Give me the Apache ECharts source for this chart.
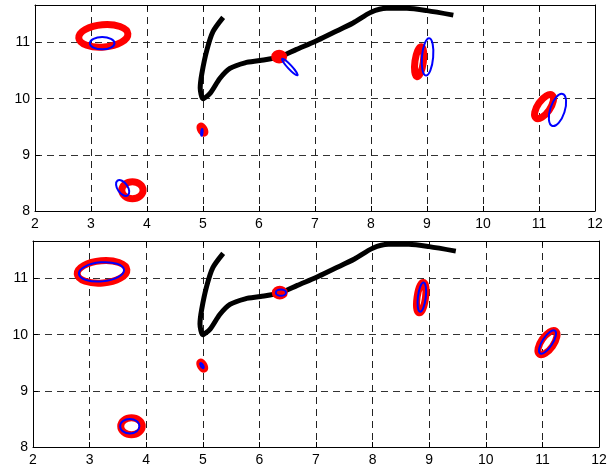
<!DOCTYPE html>
<html>
<head>
<meta charset="utf-8">
<script src="https://cdn.jsdelivr.net/npm/echarts@6/dist/echarts.min.js"></script>
<style>
html,body{margin:0;padding:0;background:#fff;}
#chart{width:614px;height:470px;}
</style>
</head>
<body>
<div id="chart"></div>
<script>
// ---- data ----
var xTicks = [2, 3, 4, 5, 6, 7, 8, 9, 10, 11, 12];
var yTicks = [8, 9, 10, 11];
var xMin = 2, xMax = 12, yMin = 8, yMax = 11.67;

// black trajectory (same in both panels)
var blackX = [5.36, 5.18, 5.07, 4.98, 4.95, 5.00, 5.13, 5.30, 5.48, 5.75, 6.02, 6.38, 6.67, 7.00, 7.33, 7.68, 8.00, 8.28, 8.64, 9.00, 9.47];
var blackY = [11.45, 11.20, 10.87, 10.45, 10.19, 10.00, 10.10, 10.36, 10.54, 10.64, 10.68, 10.75, 10.88, 11.02, 11.18, 11.35, 11.54, 11.61, 11.61, 11.57, 11.49];

// ellipses: [centre x, centre y, semi-axis a, semi-axis b, tilt (deg)]
var redEllipses = [
  [3.22, 11.12, 0.44, 0.20, 5],
  [4.99, 9.45, 0.07, 0.03, -60],
  [3.74, 8.37, 0.19, 0.15, 0],
  [6.36, 10.75, 0.08, 0.06, 0],
  [8.86, 10.66, 0.27, 0.075, 82],
  [11.09, 9.86, 0.25, 0.11, 55]
];
var blueEllipsesTop = [
  [3.20, 10.99, 0.22, 0.11, 0],
  [4.98, 9.40, 0.06, 0.012, 85],
  [3.565, 8.41, 0.16, 0.09, -55],
  [6.55, 10.565, 0.20, 0.035, -47],
  [9.01, 10.745, 0.335, 0.10, 85],
  [11.33, 9.80, 0.30, 0.13, 72]
];
var blueEllipsesBottom = [
  [3.21, 11.12, 0.40, 0.17, 5],
  [4.985, 9.45, 0.05, 0.02, -60],
  [3.71, 8.37, 0.17, 0.13, 0],
  [6.38, 10.75, 0.09, 0.055, 0],
  [8.87, 10.67, 0.26, 0.07, 83],
  [11.09, 9.87, 0.24, 0.09, 57]
];

// ---- chart ----
var chart = echarts.init(document.getElementById('chart'), null, {renderer: 'canvas'});
var FONT = 'Liberation Sans, Arial, sans-serif';

function pairs(xs, ys) { return xs.map(function (x, i) { return [x, ys[i]]; }); }

function ellipseRenderer(color, width) {
  return function (params, api) {
    var c = api.coord([api.value(0), api.value(1)]);
    var s = api.size([api.value(2), api.value(3)]);
    return {
      type: 'ellipse',
      x: c[0], y: c[1],
      rotation: api.value(4) * Math.PI / 180,
      shape: {cx: 0, cy: 0, rx: s[0], ry: s[1]},
      style: {fill: null, stroke: color, lineWidth: width}
    };
  };
}

function mainX(gi) {
  return {
    gridIndex: gi, type: 'value', min: xMin, max: xMax, interval: 1, position: 'bottom',
    axisLine: {show: true, onZero: false, lineStyle: {color: '#000', width: 1}},
    axisTick: {show: true, inside: true, length: 5, lineStyle: {color: '#000'}},
    axisLabel: {color: '#000', fontFamily: FONT, fontSize: 14, margin: 6,
      formatter: function (v) { return xTicks.indexOf(v) >= 0 ? String(v) : ''; }},
    splitLine: {show: true, lineStyle: {color: '#222', type: [7, 5], width: 1}}
  };
}
function topX(gi) {
  return {
    gridIndex: gi, type: 'value', min: xMin, max: xMax, interval: 1, position: 'top',
    axisLine: {show: true, onZero: false, lineStyle: {color: '#000', width: 1}},
    axisTick: {show: true, inside: true, length: 5, lineStyle: {color: '#000'}},
    axisLabel: {show: false}, splitLine: {show: false}
  };
}
function mainY(gi) {
  return {
    gridIndex: gi, type: 'value', min: yMin, max: yMax, interval: 1, position: 'left',
    axisLine: {show: true, onZero: false, lineStyle: {color: '#000', width: 1}},
    axisTick: {show: true, inside: true, length: 5, lineStyle: {color: '#000'},
      customValues: yTicks},
    axisLabel: {color: '#000', fontFamily: FONT, fontSize: 14, margin: 5,
      customValues: yTicks,
      formatter: function (v) { return yTicks.indexOf(v) >= 0 ? String(v) : ''; }},
    splitLine: {show: true, lineStyle: {color: '#333', type: [7, 5], width: 1}}
  };
}
function rightY(gi) {
  return {
    gridIndex: gi, type: 'value', min: yMin, max: yMax, interval: 1, position: 'right',
    axisLine: {show: true, onZero: false, lineStyle: {color: '#000', width: 1}},
    axisTick: {show: true, inside: true, length: 5, lineStyle: {color: '#000'},
      customValues: yTicks},
    axisLabel: {show: false}, splitLine: {show: false}
  };
}

var option = {
  backgroundColor: '#fff',
  animation: false,
  grid: [
    {left: 35, top: 5, width: 560, height: 206, show: false},
    {left: 33, top: 241, width: 566, height: 206, show: false}
  ],
  xAxis: [mainX(0), mainX(1), topX(0), topX(1)],
  yAxis: [mainY(0), mainY(1), rightY(0), rightY(1)],
  series: [
    {type: 'line', xAxisIndex: 0, yAxisIndex: 0, data: pairs(blackX, blackY), smooth: 0.25,
      showSymbol: false, lineStyle: {color: '#000', width: 5}, z: 3},
    {type: 'custom', xAxisIndex: 0, yAxisIndex: 0, data: redEllipses,
      renderItem: ellipseRenderer('#ff0000', 7), z: 4},
    {type: 'custom', xAxisIndex: 0, yAxisIndex: 0, data: blueEllipsesTop,
      renderItem: ellipseRenderer('#0000ff', 2), z: 5},
    {type: 'line', xAxisIndex: 1, yAxisIndex: 1, data: pairs(blackX, blackY), smooth: 0.25,
      showSymbol: false, lineStyle: {color: '#000', width: 5}, z: 3},
    {type: 'custom', xAxisIndex: 1, yAxisIndex: 1, data: redEllipses,
      renderItem: ellipseRenderer('#ff0000', 7), z: 4},
    {type: 'custom', xAxisIndex: 1, yAxisIndex: 1, data: blueEllipsesBottom,
      renderItem: ellipseRenderer('#0000ff', 2), z: 5}
  ]
};
chart.setOption(option);
</script>
</body>
</html>
